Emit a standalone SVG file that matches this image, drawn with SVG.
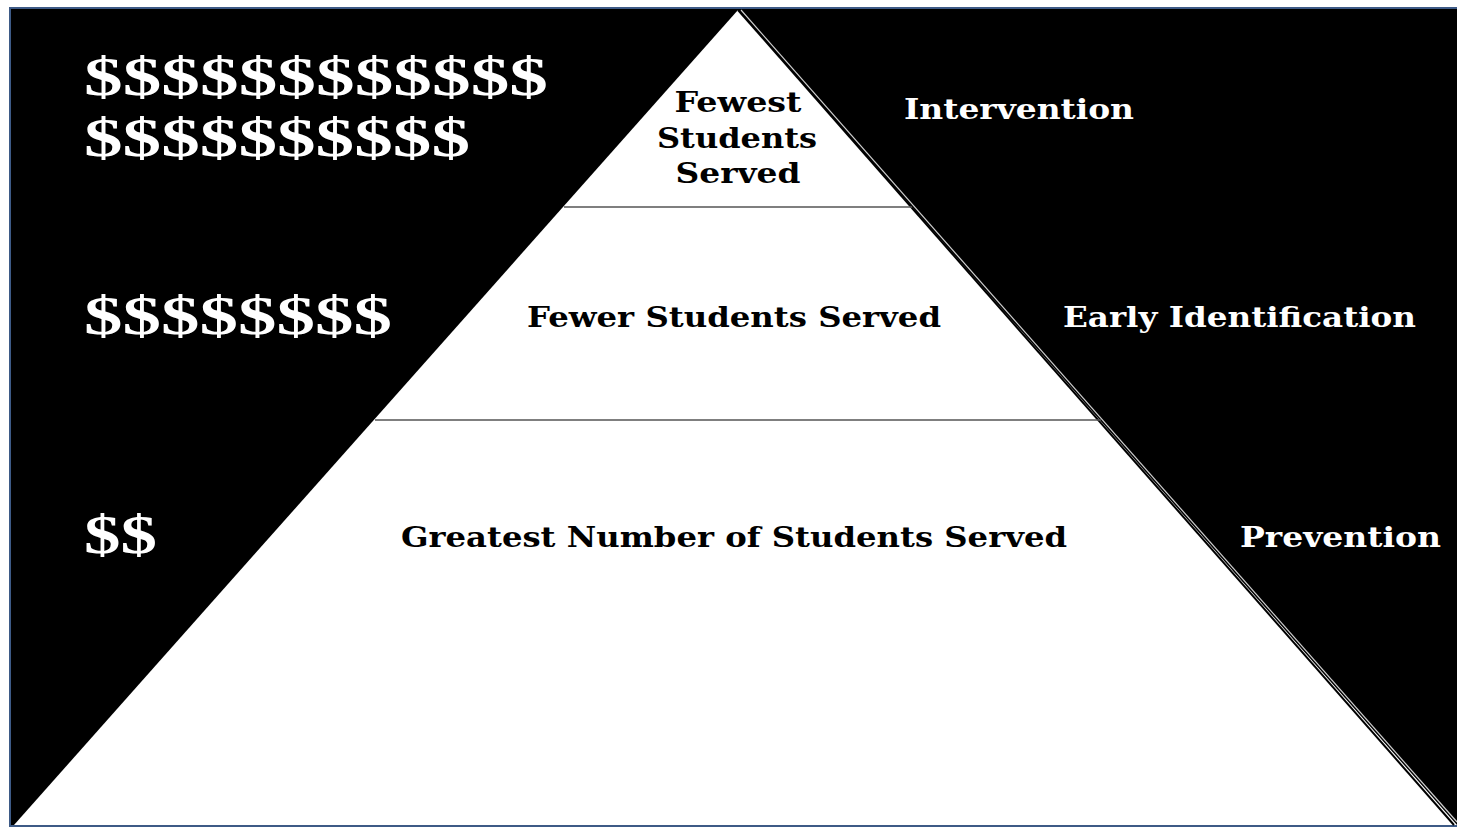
<svg xmlns="http://www.w3.org/2000/svg" width="1457" height="828" viewBox="0 0 1457 828">
<style>
.w{fill:#fff;font-family:"DejaVu Serif","Liberation Serif",serif;font-weight:bold}
.b{fill:#000;font-family:"DejaVu Serif","Liberation Serif",serif;font-weight:bold}
.d{font-family:"Liberation Serif","DejaVu Serif",serif;font-size:54px}
.l{font-size:28px}
.div{stroke:#555;stroke-width:1.5}
</style>
<rect x="0" y="0" width="1457" height="828" fill="#fff"/>
<g id="frame">
<rect x="10" y="8" width="1450" height="818" fill="#000" stroke="#3d5a86" stroke-width="2"/>
</g>
<g id="pyramid">
<polygon points="738,10 14,825 1457,825" fill="#fff"/>
<line x1="741" y1="10" x2="1457" y2="822" stroke="#d0d0d0" stroke-width="1.2"/>
<line x1="738" y1="10" x2="1454" y2="825" stroke="#000" stroke-width="2"/>
</g>
<g id="connectors">
<line class="div" x1="564" y1="207" x2="912" y2="207"/>
<line class="div" x1="375" y1="420" x2="1101" y2="420"/>
</g>
<g id="tier-top">
<text class="b l" text-anchor="middle" x="738" y="112" textLength="127" lengthAdjust="spacingAndGlyphs">Fewest</text>
<text class="b l" text-anchor="middle" x="737" y="148" textLength="160" lengthAdjust="spacingAndGlyphs">Students</text>
<text class="b l" text-anchor="middle" x="738" y="183" textLength="125" lengthAdjust="spacingAndGlyphs">Served</text>
</g>
<g id="tier-middle">
<text class="b l" x="527" y="327" textLength="414" lengthAdjust="spacingAndGlyphs">Fewer Students Served</text>
</g>
<g id="tier-bottom">
<text class="b l" x="401" y="547" textLength="666" lengthAdjust="spacingAndGlyphs">Greatest Number of Students Served</text>
</g>
<g id="cost-high">
<text class="w d" x="84" y="95" textLength="464" lengthAdjust="spacingAndGlyphs">$$$$$$$$$$$$</text>
<text class="w d" x="84" y="156" textLength="386" lengthAdjust="spacingAndGlyphs">$$$$$$$$$$</text>
</g>
<g id="cost-mid">
<text class="w d" x="84" y="334" textLength="308" lengthAdjust="spacingAndGlyphs">$$$$$$$$</text>
</g>
<g id="cost-low">
<text class="w d" x="84" y="553" textLength="73" lengthAdjust="spacingAndGlyphs">$$</text>
</g>
<g id="label-intervention">
<text class="w l" x="904" y="119" textLength="230" lengthAdjust="spacingAndGlyphs">Intervention</text>
</g>
<g id="label-early">
<text class="w l" x="1063" y="327" textLength="353" lengthAdjust="spacingAndGlyphs">Early Identification</text>
</g>
<g id="label-prevention">
<text class="w l" x="1240" y="547" textLength="201" lengthAdjust="spacingAndGlyphs">Prevention</text>
</g>
</svg>
